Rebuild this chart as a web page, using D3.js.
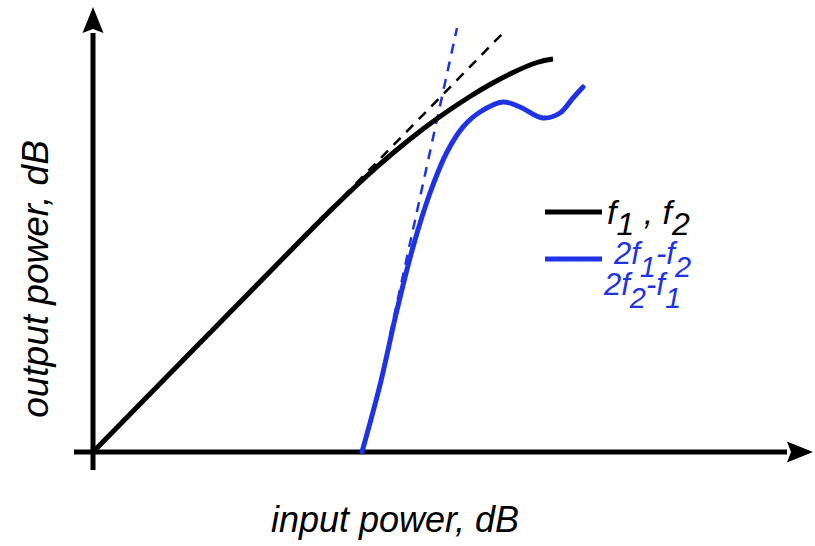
<!DOCTYPE html>
<html>
<head>
<meta charset="utf-8">
<script src="https://cdn.jsdelivr.net/npm/d3@7"></script>
<style>
    body { margin: 0; background: #fff; }
    svg { display: block; }
    text { font-family: "Liberation Sans", Arial, sans-serif; font-style: italic; }
</style>
</head>
<body>
<svg id="svg" width="815" height="546"></svg>
<script>
// fundamental tones f1, f2 (input dB -> output dB)
var fundIn  = [0, 10.0, 20.7, 24.0, 27.0, 30.0, 33.0, 35.5, 37.7, 39.7, 42.0, 44.4, 46.0];
var fundOut = [0, 10.2, 21.1, 24.4, 27.25, 29.9, 32.3, 34.1, 35.55, 36.75, 37.95, 38.95, 39.3];

// third order products 2f1-f2, 2f2-f1
var imdIn  = [26.9, 28.7, 30.4, 32.0, 33.7, 35.4, 37.0, 38.7, 41.0, 42.7, 45.0, 46.7, 48.0, 49.0];
var imdOut = [0, 6.7, 14.2, 20.5, 25.9, 30.0, 32.5, 34.0, 35.0, 34.5, 33.4, 33.9, 35.4, 36.5];

// asymptotes (dashed)
var fundAsymIn  = [20.0, 41.2];
var fundAsymOut = [20.4, 42.1];
var imdAsymIn   = [29.7, 36.4];
var imdAsymOut  = [11.7, 42.4];

var xLabel = "input power, dB";
var yLabel = "output power, dB";

var black = "#000",
    blue = "#1f33e6";

function zip(a, b) {
    return a.map(function (d, i) { return [d, b[i]]; });
}

// text with subscripts: parts = [[text, isSub], ...]
function subText(g, px, py, size, subSize, shift, color, parts) {
    var t = g.append("text").attr("x", px).attr("y", py)
        .style("font-size", size + "px").attr("fill", color);
    var down = false;
    parts.forEach(function (p) {
        var s = t.append("tspan").text(p[0]);
        if (p[1] && !down) { s.attr("dy", shift); down = true; }
        else if (!p[1] && down) { s.attr("dy", -shift); down = false; }
        if (p[1]) s.style("font-size", subSize + "px");
    });
    return t;
}

window.onload = function () {
    var svg = d3.select("#svg");

    // scales: 10 px per dB
    var x = d3.scaleLinear().domain([0, 72]).range([93, 813]);
    var y = d3.scaleLinear().domain([0, 44.5]).range([452, 7]);

    // arrow heads
    svg.append("defs").append("marker")
        .attr("id", "arrow")
        .attr("markerUnits", "userSpaceOnUse")
        .attr("markerWidth", 30)
        .attr("markerHeight", 24)
        .attr("viewBox", "0 -12 30 24")
        .attr("refX", 0)
        .attr("refY", 0)
        .attr("orient", "auto")
        .append("path")
        .attr("d", "M26,0 L0,-10.5 L4,0 L0,10.5 Z")
        .attr("fill", black);

    // axes
    svg.append("line")
        .attr("x1", x(-1.9)).attr("y1", y(0))
        .attr("x2", x(72) - 26).attr("y2", y(0))
        .attr("stroke", black).attr("stroke-width", 5)
        .attr("marker-end", "url(#arrow)");

    svg.append("line")
        .attr("x1", x(0)).attr("y1", y(-1.8))
        .attr("x2", x(0)).attr("y2", y(44.5) + 26)
        .attr("stroke", black).attr("stroke-width", 5)
        .attr("marker-end", "url(#arrow)");

    var line = d3.line()
        .x(function (d) { return x(d[0]); })
        .y(function (d) { return y(d[1]); })
        .curve(d3.curveCatmullRom.alpha(0.5));

    var smooth = d3.line()
        .x(function (d) { return x(d[0]); })
        .y(function (d) { return y(d[1]); })
        .curve(d3.curveNatural);

    // dashed asymptotes
    svg.append("path")
        .attr("d", line(zip(fundAsymIn, fundAsymOut)))
        .attr("fill", "none")
        .attr("stroke", black)
        .attr("stroke-width", 2.5)
        .attr("stroke-dasharray", "10,8");

    svg.append("path")
        .attr("d", line(zip(imdAsymIn, imdAsymOut)))
        .attr("fill", "none")
        .attr("stroke", blue)
        .attr("stroke-width", 2.5)
        .attr("stroke-dasharray", "10,8");

    // curves
    svg.append("path")
        .attr("d", smooth(zip(fundIn, fundOut)))
        .attr("fill", "none")
        .attr("stroke", black)
        .attr("stroke-width", 5)
        .attr("stroke-linecap", "butt");

    svg.append("path")
        .attr("d", line(zip(imdIn, imdOut)))
        .attr("fill", "none")
        .attr("stroke", blue)
        .attr("stroke-width", 5)
        .attr("stroke-linecap", "round");

    // axis titles
    svg.append("text")
        .attr("x", 395)
        .attr("y", 532)
        .attr("text-anchor", "middle")
        .style("font-size", "36px")
        .text(xLabel);

    svg.append("text")
        .attr("transform", "translate(48,279) rotate(-90)")
        .attr("text-anchor", "middle")
        .style("font-size", "37px")
        .text(yLabel);

    // legend
    var lg = svg.append("g");
    lg.append("line")
        .attr("x1", 545).attr("x2", 602).attr("y1", 212).attr("y2", 212)
        .attr("stroke", black).attr("stroke-width", 5);
    lg.append("line")
        .attr("x1", 545).attr("x2", 602).attr("y1", 259).attr("y2", 259)
        .attr("stroke", blue).attr("stroke-width", 5);

    subText(lg, 607, 224, 34, 32, 11, black,
        [["f", 0], ["1", 1], [" , f", 0], ["2", 1]]);
    subText(lg, 614, 264, 31, 29, 13, blue,
        [["2f", 0], ["1", 1], ["-f", 0], ["2", 1]]);
    subText(lg, 604, 295, 31, 29, 13, blue,
        [["2f", 0], ["2", 1], ["-f", 0], ["1", 1]]);
};
</script>
</body>
</html>
